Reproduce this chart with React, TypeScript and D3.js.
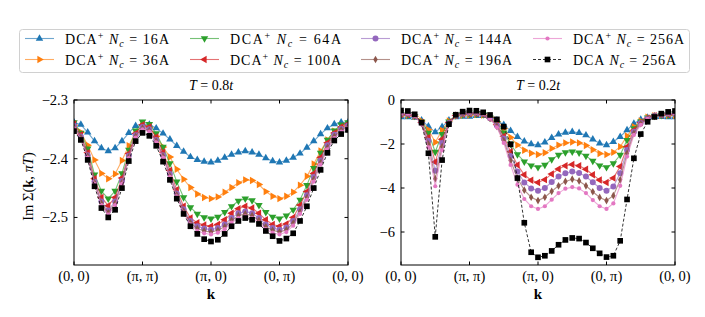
import React from "react";
import * as d3 from "d3";

// k-path: 41 points, 10 steps per segment
const kTickIdx = [0, 10, 20, 30, 40];
const kTickLabels = ["(0, 0)", "(π, π)", "(π, 0)", "(0, π)", "(0, 0)"];

const leftYTicks = [-2.3, -2.4, -2.5];
const rightYTicks = [0, -2, -4, -6];

const legendNc = ["16A", "36A", "64A", "100A", "144A", "196A", "256A", "256A"];

// T = 0.8t
const t08_16 = [-2.338, -2.342, -2.355, -2.37, -2.382, -2.387, -2.382, -2.37, -2.356, -2.344, -2.341, -2.342, -2.348, -2.357, -2.367, -2.378, -2.388, -2.397, -2.402, -2.405, -2.406, -2.403, -2.398, -2.393, -2.389, -2.387, -2.389, -2.393, -2.399, -2.404, -2.406, -2.403, -2.398, -2.391, -2.381, -2.37, -2.358, -2.348, -2.341, -2.338, -2.338];
const t08_36 = [-2.343, -2.355, -2.377, -2.402, -2.425, -2.434, -2.426, -2.403, -2.378, -2.355, -2.344, -2.347, -2.362, -2.38, -2.397, -2.418, -2.435, -2.449, -2.46, -2.466, -2.468, -2.465, -2.457, -2.449, -2.441, -2.436, -2.437, -2.444, -2.456, -2.464, -2.468, -2.464, -2.457, -2.445, -2.43, -2.409, -2.387, -2.368, -2.353, -2.346, -2.343];
const t08_64 = [-2.338, -2.356, -2.383, -2.427, -2.455, -2.468, -2.455, -2.425, -2.385, -2.352, -2.337, -2.341, -2.357, -2.38, -2.408, -2.439, -2.466, -2.483, -2.494, -2.5, -2.502, -2.499, -2.491, -2.481, -2.472, -2.468, -2.471, -2.479, -2.491, -2.499, -2.502, -2.497, -2.487, -2.47, -2.445, -2.416, -2.39, -2.368, -2.352, -2.342, -2.338];
const t08_100 = [-2.341, -2.359, -2.39, -2.434, -2.466, -2.48, -2.466, -2.433, -2.391, -2.357, -2.342, -2.346, -2.363, -2.389, -2.42, -2.453, -2.481, -2.501, -2.509, -2.513, -2.515, -2.512, -2.504, -2.493, -2.485, -2.481, -2.484, -2.493, -2.504, -2.512, -2.515, -2.511, -2.5, -2.479, -2.456, -2.425, -2.398, -2.373, -2.356, -2.346, -2.341];
const t08_144 = [-2.344, -2.362, -2.394, -2.439, -2.473, -2.488, -2.473, -2.438, -2.395, -2.36, -2.346, -2.35, -2.368, -2.394, -2.426, -2.459, -2.486, -2.506, -2.515, -2.519, -2.521, -2.518, -2.512, -2.501, -2.493, -2.49, -2.493, -2.501, -2.512, -2.518, -2.521, -2.517, -2.506, -2.486, -2.462, -2.431, -2.403, -2.377, -2.359, -2.349, -2.344];
const t08_196 = [-2.346, -2.364, -2.396, -2.441, -2.476, -2.492, -2.476, -2.441, -2.397, -2.362, -2.348, -2.352, -2.37, -2.396, -2.429, -2.462, -2.489, -2.509, -2.519, -2.523, -2.525, -2.522, -2.516, -2.505, -2.497, -2.494, -2.497, -2.505, -2.516, -2.522, -2.525, -2.521, -2.51, -2.49, -2.466, -2.435, -2.407, -2.381, -2.362, -2.351, -2.346];
const t08_256 = [-2.348, -2.366, -2.398, -2.443, -2.479, -2.495, -2.479, -2.443, -2.399, -2.364, -2.35, -2.354, -2.372, -2.398, -2.431, -2.464, -2.492, -2.512, -2.523, -2.527, -2.529, -2.526, -2.52, -2.509, -2.501, -2.498, -2.501, -2.509, -2.52, -2.526, -2.529, -2.525, -2.514, -2.494, -2.47, -2.439, -2.41, -2.384, -2.365, -2.354, -2.348];
const t08_dca = [-2.353, -2.368, -2.402, -2.447, -2.484, -2.5, -2.487, -2.45, -2.404, -2.37, -2.356, -2.361, -2.378, -2.405, -2.436, -2.468, -2.494, -2.515, -2.528, -2.537, -2.541, -2.538, -2.528, -2.515, -2.506, -2.501, -2.504, -2.511, -2.523, -2.532, -2.54, -2.536, -2.527, -2.506, -2.481, -2.45, -2.419, -2.39, -2.369, -2.358, -2.351];

// T = 0.2t
const t02_16 = [-0.78, -0.78, -0.8, -0.92, -1.2, -1.46, -1.22, -0.92, -0.78, -0.76, -0.75, -0.72, -0.72, -0.77, -0.92, -1.13, -1.4, -1.67, -1.88, -2.0, -2.05, -1.92, -1.72, -1.56, -1.48, -1.45, -1.49, -1.6, -1.79, -1.97, -2.05, -1.9, -1.67, -1.37, -1.07, -0.89, -0.8, -0.76, -0.77, -0.78, -0.78];
const t02_36 = [-0.7, -0.7, -0.74, -0.95, -1.35, -1.92, -1.38, -0.95, -0.72, -0.69, -0.68, -0.66, -0.68, -0.78, -0.98, -1.3, -1.7, -2.05, -2.28, -2.42, -2.48, -2.4, -2.2, -2.05, -1.95, -1.91, -1.95, -2.07, -2.26, -2.43, -2.48, -2.38, -2.12, -1.64, -1.22, -0.95, -0.78, -0.72, -0.7, -0.7, -0.7];
const t02_64 = [-0.67, -0.68, -0.73, -0.98, -1.5, -2.36, -1.55, -0.98, -0.7, -0.66, -0.64, -0.63, -0.66, -0.8, -1.05, -1.48, -2.0, -2.47, -2.8, -2.98, -3.06, -2.95, -2.7, -2.5, -2.38, -2.35, -2.39, -2.54, -2.77, -2.98, -3.06, -2.88, -2.5, -1.82, -1.29, -0.98, -0.8, -0.72, -0.69, -0.68, -0.67];
const t02_100 = [-0.65, -0.66, -0.72, -1.02, -1.7, -2.82, -1.78, -1.02, -0.7, -0.64, -0.62, -0.61, -0.65, -0.82, -1.12, -1.65, -2.35, -2.95, -3.4, -3.65, -3.75, -3.62, -3.36, -3.14, -2.99, -2.93, -2.99, -3.15, -3.4, -3.64, -3.75, -3.55, -3.02, -2.12, -1.37, -1.02, -0.83, -0.72, -0.68, -0.66, -0.65];
const t02_144 = [-0.63, -0.64, -0.72, -1.05, -1.85, -3.22, -1.95, -1.05, -0.7, -0.62, -0.6, -0.6, -0.64, -0.83, -1.16, -1.75, -2.55, -3.25, -3.75, -4.02, -4.12, -4.0, -3.73, -3.48, -3.33, -3.25, -3.32, -3.48, -3.74, -4.0, -4.12, -3.93, -3.33, -2.27, -1.44, -1.05, -0.84, -0.72, -0.67, -0.64, -0.63];
const t02_196 = [-0.62, -0.63, -0.72, -1.08, -2.0, -3.58, -2.12, -1.08, -0.69, -0.61, -0.59, -0.59, -0.64, -0.84, -1.2, -1.85, -2.75, -3.55, -4.1, -4.42, -4.57, -4.42, -4.15, -3.9, -3.7, -3.6, -3.68, -3.9, -4.17, -4.43, -4.57, -4.35, -3.63, -2.42, -1.52, -1.08, -0.85, -0.72, -0.66, -0.63, -0.62];
const t02_256 = [-0.61, -0.62, -0.72, -1.1, -2.15, -3.92, -2.28, -1.1, -0.68, -0.6, -0.58, -0.58, -0.63, -0.85, -1.24, -1.95, -2.95, -3.85, -4.5, -4.83, -4.95, -4.83, -4.53, -4.23, -4.03, -3.96, -4.02, -4.23, -4.55, -4.83, -4.95, -4.7, -3.9, -2.57, -1.59, -1.13, -0.86, -0.72, -0.65, -0.62, -0.61];
const t02_dca = [-0.48, -0.5, -0.65, -1.03, -2.42, -6.22, -2.73, -1.1, -0.67, -0.53, -0.48, -0.49, -0.56, -0.68, -0.88, -1.21, -2.01, -3.55, -5.58, -6.92, -7.15, -7.08, -6.86, -6.58, -6.36, -6.27, -6.3, -6.48, -6.74, -6.97, -7.14, -7.08, -6.4, -4.52, -2.65, -1.55, -0.99, -0.77, -0.62, -0.54, -0.5];

const colors = ["#1f77b4", "#ff7f0e", "#2ca02c", "#d62728", "#9467bd", "#8c564b", "#e377c2", "#000000"];
const markers = ["up", "right", "down", "left", "circle", "diamond", "point", "square"];

const font = "'Liberation Serif', 'DejaVu Serif', serif";

function Marker({ kind, x, y, color }) {
  let d;
  let rot = 0;
  if (kind === "up" || kind === "right" || kind === "down" || kind === "left") {
    d = d3.symbol(d3.symbolTriangle, 24)();
    rot = { up: 0, right: 90, down: 180, left: 270 }[kind];
  } else if (kind === "circle") {
    d = d3.symbol(d3.symbolCircle, 28)();
  } else if (kind === "point") {
    d = d3.symbol(d3.symbolCircle, 14)();
  } else if (kind === "diamond") {
    d = d3.symbol(d3.symbolDiamond, 17)();
  } else {
    d = d3.symbol(d3.symbolSquare, 32)();
  }
  return <path d={d} transform={`translate(${x},${y}) rotate(${rot})`} fill={color} />;
}

function Panel({ x0, x1, y0, y1, domain, yTicks, series, title, yLabel }) {
  const x = d3.scaleLinear().domain([0, 40]).range([x0, x1]);
  const y = d3.scaleLinear().domain(domain).range([y1, y0]);
  const line = d3.line().x((d, i) => x(i)).y((d) => y(d));
  const tl = 3.5;
  const fmt = (v) => (v < 0 ? "\u2212" + Math.abs(v) : String(v));
  return (
    <g>
      <text x={(x0 + x1) / 2} y={90} textAnchor="middle" fontSize={14} fontFamily={font}>
        <tspan fontStyle="italic">T</tspan> = 0.{title}
        <tspan fontStyle="italic">t</tspan>
      </text>
      <defs>
        <clipPath id={`clip${x0}`}>
          <rect x={x0} y={y0} width={x1 - x0} height={y1 - y0} />
        </clipPath>
      </defs>
      <g clipPath={`url(#clip${x0})`}>
        {series.map((s, si) => (
          <g key={si}>
            <path
              d={line(s)}
              fill="none"
              stroke={colors[si]}
              strokeOpacity={si === 7 ? 1 : 0.65}
              strokeWidth={si === 7 ? 0.8 : 1.1}
              strokeDasharray={si === 7 ? "3,2" : null}
            />
            {s.map((v, i) => (
              <Marker key={i} kind={markers[si]} x={x(i)} y={y(v)} color={colors[si]} />
            ))}
          </g>
        ))}
      </g>
      <rect x={x0} y={y0} width={x1 - x0} height={y1 - y0} fill="none" stroke="#000" strokeWidth={1} />
      {kTickIdx.map((k, i) => (
        <g key={k}>
          <line x1={x(k)} x2={x(k)} y1={y1} y2={y1 - tl} stroke="#000" />
          <line x1={x(k)} x2={x(k)} y1={y0} y2={y0 + tl} stroke="#000" />
          <text x={x(k)} y={281} textAnchor="middle" fontSize={14.5} fontFamily={font}>
            {kTickLabels[i]}
          </text>
        </g>
      ))}
      {yTicks.map((t) => (
        <g key={t}>
          <line x1={x0} x2={x0 + tl} y1={y(t)} y2={y(t)} stroke="#000" />
          <line x1={x1} x2={x1 - tl} y1={y(t)} y2={y(t)} stroke="#000" />
          <text x={x0 - 6} y={y(t) + 5} textAnchor="end" fontSize={14.5} fontFamily={font}>
            {fmt(t)}
          </text>
        </g>
      ))}
      <text x={(x0 + x1) / 2} y={299} textAnchor="middle" fontSize={15} fontWeight="bold" fontFamily={font}>
        k
      </text>
      {yLabel && (
        <text
          transform={`translate(33,${(y0 + y1) / 2 + 4}) rotate(-90)`}
          textAnchor="middle"
          fontSize={14.5}
          fontFamily={font}
        >
          Im Σ(<tspan fontWeight="bold">k</tspan>, <tspan fontStyle="italic">πT</tspan>)
        </text>
      )}
    </g>
  );
}

function Legend() {
  const colX = [25, 190, 361, 533];
  const rowY = [38.5, 59.5];
  const widths = [104, 104, 111, 111, 111, 111, 111, 103];
  return (
    <g>
      <rect x={19.5} y={29.5} width={670} height={43} rx={3} fill="#fff" stroke="#d0d0d0" strokeWidth={1} />
      {legendNc.map((nc, i) => {
        const col = Math.floor(i / 2);
        const row = i % 2;
        const lx = colX[col];
        const ly = rowY[row];
        const black = i === 7;
        return (
          <g key={i}>
            <line
              x1={lx}
              x2={lx + 29}
              y1={ly}
              y2={ly}
              stroke={colors[i]}
              strokeOpacity={black ? 1 : 0.65}
              strokeWidth={black ? 0.8 : 1.1}
              strokeDasharray={black ? "3,2" : null}
            />
            <Marker kind={markers[i]} x={lx + 14.5} y={ly} color={colors[i]} />
            <text
              x={lx + 40}
              y={ly + 5}
              fontSize={14}
              fontFamily={font}
              textLength={widths[i]}
              lengthAdjust="spacing"
            >
              DCA
              {!black && (
                <tspan dy={-5} fontSize={10}>
                  +
                </tspan>
              )}
              <tspan dy={black ? 0 : 5} fontStyle="italic">
                {" "}N
              </tspan>
              <tspan dy={3} fontSize={10} fontStyle="italic">
                c
              </tspan>
              <tspan dy={-3}> = {nc}</tspan>
            </text>
          </g>
        );
      })}
    </g>
  );
}

export default function App() {
  const left = [t08_16, t08_36, t08_64, t08_100, t08_144, t08_196, t08_256, t08_dca];
  const right = [t02_16, t02_36, t02_64, t02_100, t02_144, t02_196, t02_256, t02_dca];
  return (
    <svg
      width={705}
      height={317}
      style={{ position: "absolute", left: 0, top: 0, background: "#fff" }}
    >
      <Legend />
      <Panel x0={74} x1={348} y0={100} y1={265} domain={[-2.581, -2.3]} yTicks={leftYTicks} series={left} title="8" yLabel />
      <Panel x0={401} x1={675} y0={100} y1={265} domain={[-7.5, 0]} yTicks={rightYTicks} series={right} title="2" />
    </svg>
  );
}
